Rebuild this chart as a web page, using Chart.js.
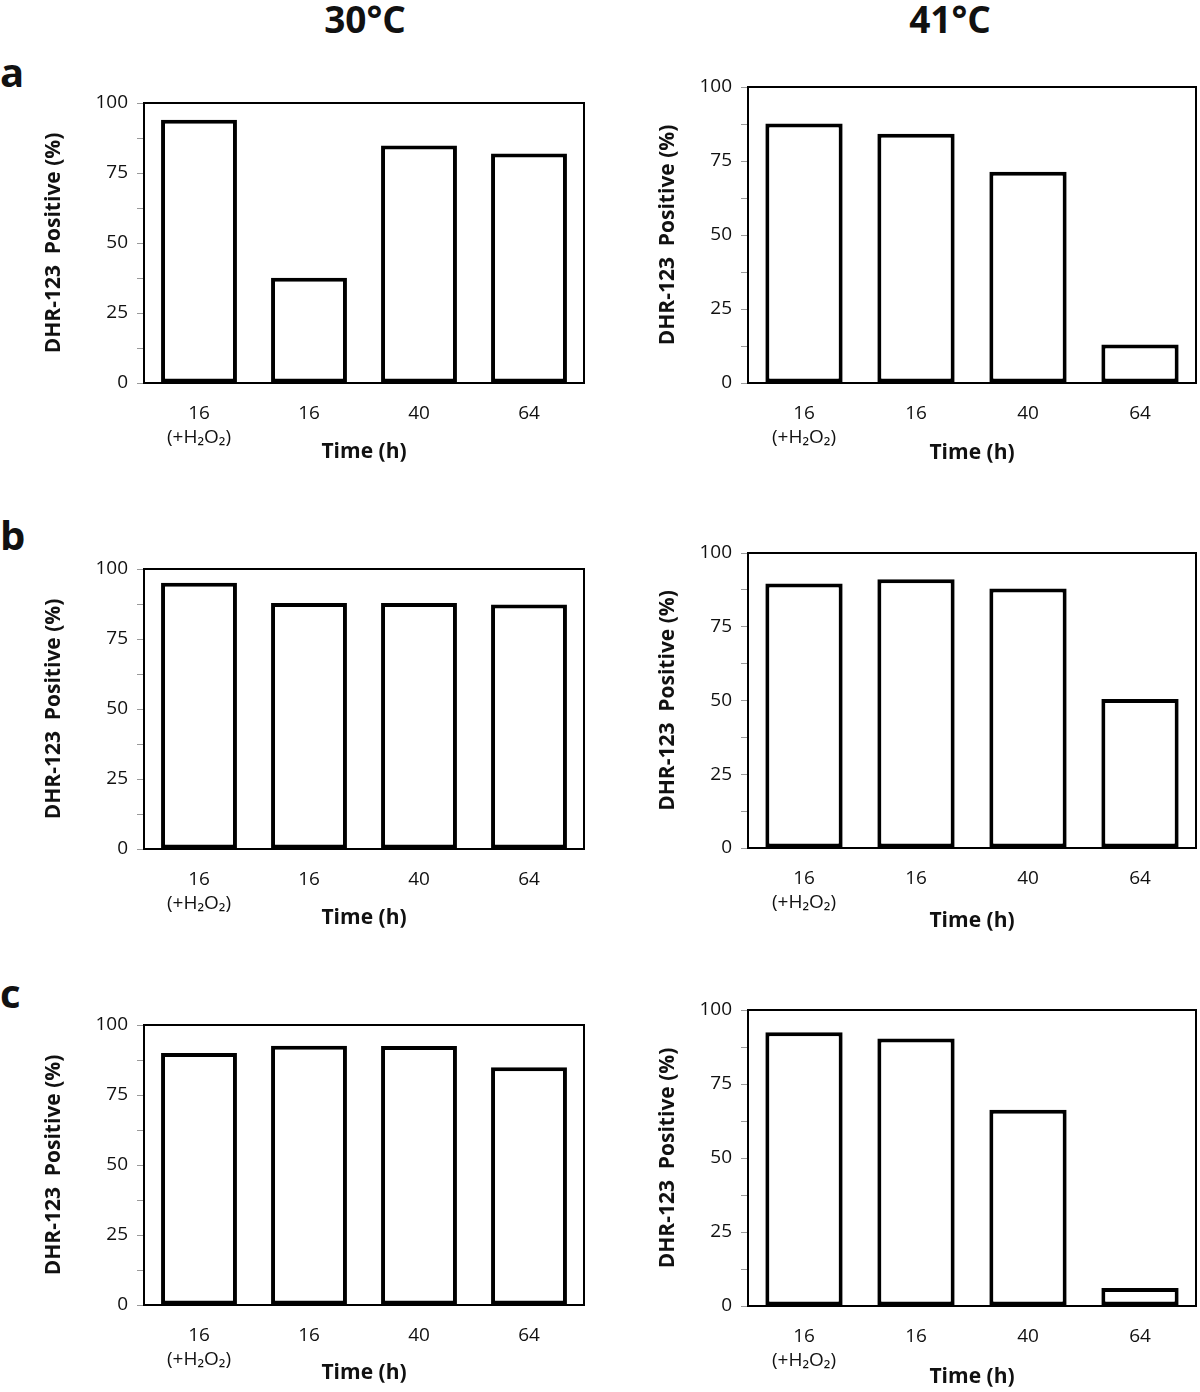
<!DOCTYPE html>
<html>
<head>
<meta charset="utf-8">
<script src="https://cdn.jsdelivr.net/npm/chart.js@4.4.1/dist/chart.umd.min.js"></script>
<style>
  html, body { margin: 0; padding: 0; background: #fff; }
  #fig  { position: relative; width: 1200px; height: 1392px; font-family: 'Open Sans', sans-serif; color: #111; overflow: hidden; }
  #fig canvas { position: absolute; }
  .head { position: absolute; font-weight: 700; font-size: 37px; line-height: 37px; transform: translateX(-50%); }
  .tag  { position: absolute; left: 0px; font-weight: 700; font-size: 40px; line-height: 40px; }
</style>
</head>
<body>
<div id="fig">
  <div class="head" style="left:365px; top:0px">30°C</div>
  <div class="head" style="left:950px; top:0px">41°C</div>
  <div class="tag" style="top:52px">a</div>
  <div class="tag" style="top:515px">b</div>
  <div class="tag" style="top:973px">c</div>
</div>
<script>
// ── Data ──────────────────────────────────────────────────────
const timeLabels = [['16', '(+H₂O₂)'], '16', '40', '64'];
const yTitle     = 'DHR-123  Positive (%)';
const xTitle     = 'Time (h)';

const a30 = [94.0, 37.6, 84.8, 82.0];
const a41 = [87.7, 84.2, 71.4, 13.0];
const b30 = [95.1, 87.9, 87.9, 87.3];
const b41 = [89.7, 91.1, 88.0, 50.5];
const c30 = [90.0, 92.6, 92.5, 84.9];
const c41 = [92.5, 90.4, 66.3, 6.1];

// ── Global defaults ───────────────────────────────────────────
Chart.defaults.font.family = "'Open Sans', sans-serif";
Chart.defaults.color       = '#111';

// ── Layout (pixel targets for each plot box) ──────────────────
const cols = [
  { x0: 0,   left: 144, right: 584,  yTitleX: 54  },
  { x0: 600, left: 748, right: 1196, yTitleX: 668 }
];

const panels = [
  { values: a30, col: 0, band: [40, 470],   top: 103,  bottom: 383,  timeY: 452 },
  { values: a41, col: 1, band: [40, 470],   top: 87,   bottom: 383,  timeY: 453 },
  { values: b30, col: 0, band: [475, 935],  top: 569,  bottom: 849,  timeY: 918 },
  { values: b41, col: 1, band: [475, 935],  top: 553,  bottom: 848,  timeY: 921 },
  { values: c30, col: 0, band: [940, 1392], top: 1025, bottom: 1305, timeY: 1373 },
  { values: c41, col: 1, band: [940, 1392], top: 1010, bottom: 1306, timeY: 1377 }
];

// Black frame round the plot area
const frame = {
  id: 'frame',
  afterDatasetsDraw(chart) {
    const { ctx, chartArea: a } = chart;
    ctx.save();
    ctx.strokeStyle = '#000';
    ctx.lineWidth   = 2;
    ctx.strokeRect(a.left, a.top, a.right - a.left, a.bottom - a.top);
    ctx.restore();
  }
};

const fig = document.getElementById('fig');
const titleSize = 21;
const titleLH   = titleSize * 1.2;

panels.forEach(p => {
  const c = cols[p.col];
  const canvas = document.createElement('canvas');
  canvas.width  = 600;
  canvas.height = p.band[1] - p.band[0];
  canvas.style.left = c.x0 + 'px';
  canvas.style.top  = p.band[0] + 'px';
  fig.appendChild(canvas);

  new Chart(canvas.getContext('2d'), {
    type: 'bar',
    data: {
      labels: timeLabels,
      datasets: [{
        data:            p.values,
        backgroundColor: '#fff',
        borderColor:     '#000',
        borderWidth:     4,
        borderSkipped:   false,
        barPercentage:   0.69,
        categoryPercentage: 1
      }]
    },
    options: {
      responsive: false,
      animation:  false,
      layout: {
        padding: { top: p.top - p.band[0], right: c.x0 + 600 - c.right, left: 0, bottom: 0 }
      },
      plugins: { legend: { display: false }, tooltip: { enabled: false } },
      scales: {
        x: {
          grid:   { display: false, drawTicks: false },
          border: { color: '#000', width: 2 },
          ticks:  { font: { size: 19, lineHeight: 1.3 }, padding: 18, maxRotation: 0, autoSkip: false, color: '#111' },
          title:  {
            display: true, text: xTitle, color: '#111',
            font: { size: titleSize, weight: 'bold' },
            padding: { top: 0, bottom: p.band[1] - p.timeY - titleLH / 2 }
          },
          afterFit: s => { s.height = p.band[1] - p.bottom; }
        },
        y: {
          min: 0, max: 100,
          grid:   { drawOnChartArea: false, drawTicks: true, tickLength: 7, color: '#9a9a9a' },
          border: { color: '#000', width: 2 },
          ticks:  {
            stepSize: 12.5, padding: 9, font: { size: 19 }, color: '#111',
            callback: v => v % 25 === 0 ? v : ''
          },
          title:  {
            display: true, text: yTitle, color: '#111',
            font: { size: titleSize, weight: 'bold' },
            padding: { top: c.yTitleX - c.x0 - titleLH / 2, bottom: 0 }
          },
          afterFit: s => { s.width = c.left - c.x0; }
        }
      }
    },
    plugins: [frame]
  });
});
</script>
</body>
</html>
